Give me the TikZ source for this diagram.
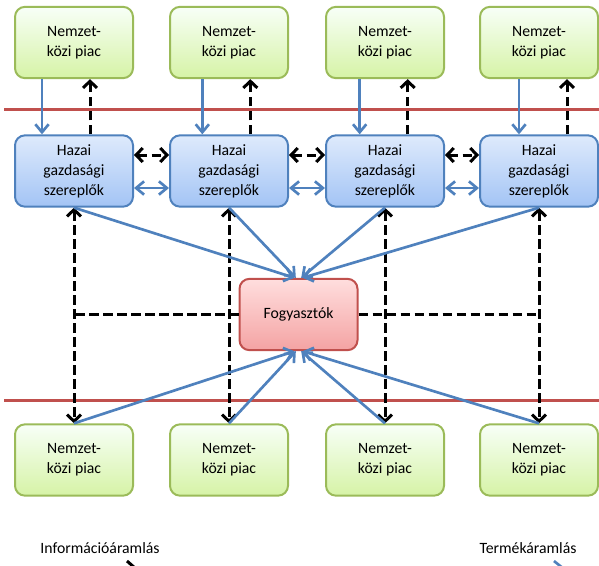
\documentclass[tikz,border=0pt]{standalone}
\usepackage{fontspec}
\setmainfont{Carlito}
\usetikzlibrary{arrows.meta}
\definecolor{zoldkeret}{HTML}{9BBB59}
\definecolor{kekkeret}{HTML}{4F81BD}
\definecolor{pirkeret}{HTML}{C0504D}
\tikzset{
  doboz/.style={rounded corners=7.5pt, line width=1.5pt, minimum width=88.5pt, minimum height=53.5pt, inner sep=0pt, align=center, font=\fontsize{11.8pt}{15pt}\selectfont},
  piac/.style={doboz, draw=zoldkeret, top color=green!3!white, bottom color={rgb,255:red,214;green,243;blue,166}},
  hazai/.style={doboz, draw=kekkeret, top color={rgb,255:red,222;green,234;blue,252}, bottom color={rgb,255:red,163;green,196;blue,245}},
  fogy/.style={doboz, draw=pirkeret, top color={rgb,255:red,255;green,222;blue,222}, bottom color={rgb,255:red,244;green,163;blue,163}},
  termek/.style={draw=kekkeret, line width=2pt},
  info/.style={draw=black, line width=2.25pt, dash pattern=on 7pt off 3.5pt},
  hatar/.style={draw=pirkeret, line width=2.25pt},
  felirat/.style={font=\fontsize{11.8pt}{15pt}\selectfont, inner sep=0pt}
}
\begin{document}
\begin{tikzpicture}[x=0.75pt, y=-0.75pt,
    ki/.tip={Straight Barb[length=5pt, width=10.5pt]},
    kek/.tip={Straight Barb[length=6pt, width=10pt]}]
  \useasboundingbox (0,0) rectangle (599,565);

  \draw[hatar] (4,109) -- (599,109);
  \draw[hatar] (4,400) -- (599,400);

  \node[piac] (g1) at (74,42.5) {Nemzet-\\közi piac};
  \node[piac] (g2) at (229,42.5) {Nemzet-\\közi piac};
  \node[piac] (g3) at (385,42.5) {Nemzet-\\közi piac};
  \node[piac] (g4) at (539,42.5) {Nemzet-\\közi piac};

  \node[hazai] (h1) at (74,171) {Hazai\\gazdasági\\szereplők};
  \node[hazai] (h2) at (229,171) {Hazai\\gazdasági\\szereplők};
  \node[hazai] (h3) at (385,171) {Hazai\\gazdasági\\szereplők};
  \node[hazai] (h4) at (539,171) {Hazai\\gazdasági\\szereplők};

  \node[fogy] (f) at (298.5,314.5) {Fogyasztók};

  \node[piac] (b1) at (74,460) {Nemzet-\\közi piac};
  \node[piac] (b2) at (229,460) {Nemzet-\\közi piac};
  \node[piac] (b3) at (385,460) {Nemzet-\\közi piac};
  \node[piac] (b4) at (539,460) {Nemzet-\\közi piac};

  \draw[termek, -kek] ([xshift=-24pt]g1.south) -- ([xshift=-24pt]h1.north);
  \draw[termek, -kek] ([xshift=-20pt]g2.south) -- ([xshift=-20pt]h2.north);
  \draw[termek, -kek] ([xshift=-19pt]g3.south) -- ([xshift=-19pt]h3.north);
  \draw[termek, -kek] ([xshift=-15pt]g4.south) -- ([xshift=-15pt]h4.north);
  \draw[info, -ki] ([xshift=12pt]h1.north) -- ([xshift=12pt]g1.south);
  \draw[info, -ki] ([xshift=16pt]h2.north) -- ([xshift=16pt]g2.south);
  \draw[info, -ki] ([xshift=17pt]h3.north) -- ([xshift=17pt]g3.south);
  \draw[info, -ki] ([xshift=21pt]h4.north) -- ([xshift=21pt]g4.south);

  \draw[info, ki-ki] ([yshift=12pt]h1.east) -- ([yshift=12pt]h2.west);
  \draw[info, ki-ki] ([yshift=12pt]h2.east) -- ([yshift=12pt]h3.west);
  \draw[info, ki-ki] ([yshift=12pt]h3.east) -- ([yshift=12pt]h4.west);
  \draw[termek, kek-kek] ([yshift=-12.75pt]h1.east) -- ([yshift=-12.75pt]h2.west);
  \draw[termek, kek-kek] ([yshift=-12.75pt]h2.east) -- ([yshift=-12.75pt]h3.west);
  \draw[termek, kek-kek] ([yshift=-12.75pt]h3.east) -- ([yshift=-12.75pt]h4.west);

  \draw[info] (f.west) -- (f.west -| h1.south);
  \draw[info] (f.east) -- (f.east -| h4.south);
  \draw[info, ki-ki] (h1.south) -- (b1.north);
  \draw[info, ki-ki] (h2.south) -- (b2.north);
  \draw[info, ki-ki] (h3.south) -- (b3.north);
  \draw[info, ki-ki] (h4.south) -- (b4.north);

  \draw[termek, -kek] (h1.south) -- ([xshift=-3pt]f.north);
  \draw[termek, -kek] (h2.south) -- ([xshift=-2pt]f.north);
  \draw[termek, -kek] (h3.south) -- ([xshift=2pt]f.north);
  \draw[termek, -kek] (h4.south) -- ([xshift=3pt]f.north);
  \draw[termek, -kek] (b1.north) -- ([xshift=-3pt]f.south);
  \draw[termek, -kek] (b2.north) -- ([xshift=-2pt]f.south);
  \draw[termek, -kek] (b3.north) -- ([xshift=2pt]f.south);
  \draw[termek, -kek] (b4.north) -- ([xshift=3pt]f.south);

  \node[felirat] (infofel) at (100,548) {Információáramlás};
  \node[felirat] (termfel) at (528,548) {Termékáramlás};
  \coordinate (infoA) at (127,561);
  \coordinate (infoB) at (160,590);
  \coordinate (termA) at (554,561);
  \coordinate (termB) at (590,590);
  \draw[info] (infoA) -- (infoB);
  \draw[termek] (termA) -- (termB);
\end{tikzpicture}
\end{document}
